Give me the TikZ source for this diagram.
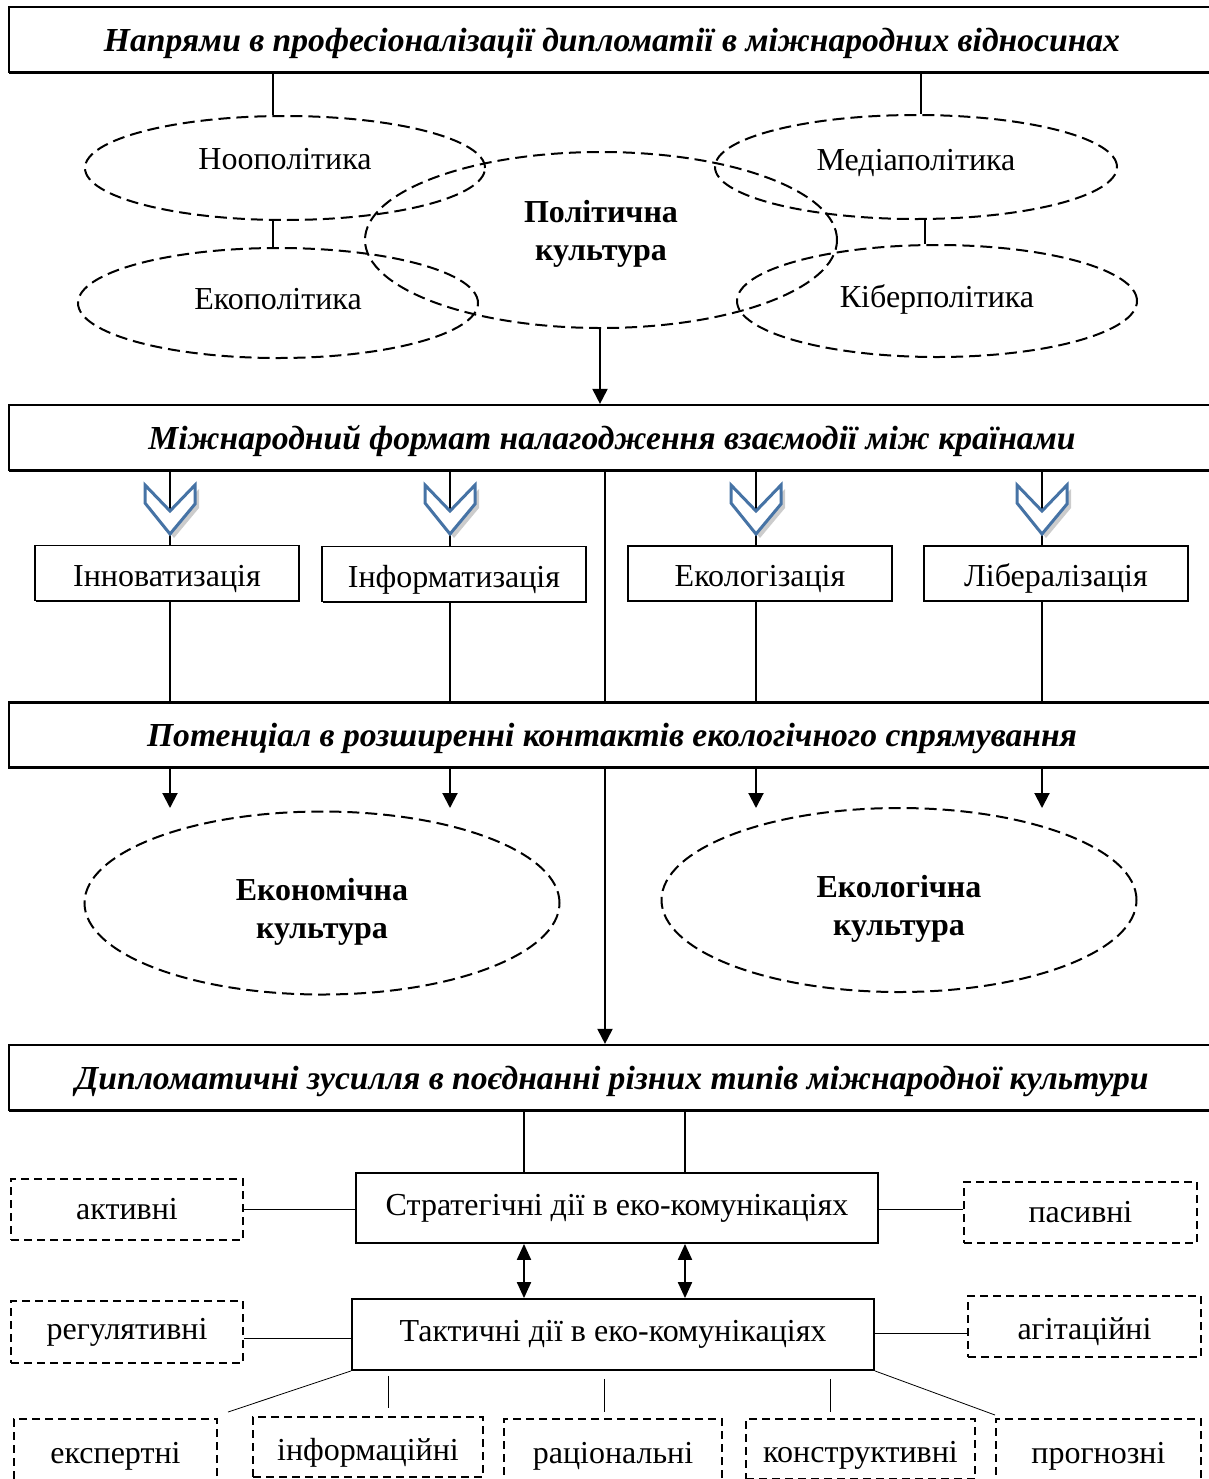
\documentclass[tikz,border=0pt]{standalone}
\usepackage{fontspec}
\setmainfont{Liberation Serif}
\usetikzlibrary{shapes.geometric}
\usetikzlibrary{arrows.meta}
\usetikzlibrary{shadows}
\usetikzlibrary{positioning}
\definecolor{chevblue}{RGB}{70,115,165}

\begin{document}
\begin{tikzpicture}[x=0.5pt,y=-0.5pt,
  font=\fontsize{16}{19}\selectfont,
  head/.style={draw,line width=1.1pt,fill=white,minimum width=603pt,minimum height=32.5pt,inner sep=0pt,
    text height=13.5pt,text depth=1.6pt,font=\fontsize{16.8}{19}\selectfont\bfseries\itshape,
    drop shadow={shadow xshift=0pt,shadow yshift=-.8pt,opacity=1,fill=black}},
  oval/.style={ellipse,draw,line width=1pt,dash pattern=on 6pt off 3pt,inner sep=0pt},
  otext/.style={align=center,font=\fontsize{16}{19}\selectfont\bfseries},
  box/.style={draw,line width=.9pt,fill=white,inner sep=0pt,minimum width=132pt,minimum height=27.5pt,
    drop shadow={shadow xshift=.4pt,shadow yshift=-.5pt,opacity=1,fill=black}},
  low/.style={text height=14.4pt,text depth=1pt},
  dbox/.style={draw,line width=.9pt,dash pattern=on 4pt off 2.5pt,inner sep=0pt},
  link/.style={line width=1pt},
  tip/.style={-{Triangle[length=7.5pt,width=7.5pt]}},
  chev/.style={draw=chevblue,line width=1.5pt,fill=white,line join=miter}]
\useasboundingbox (0,0) rectangle (1209,1479);
\clip (0,0) rectangle (1209,1479);
% first level
  \node (h1) [head] at (612,39.5) {Напрями в професіоналізації дипломатії в міжнародних відносинах};
  \node (noo) [oval,minimum width=200pt,minimum height=52pt] at (285,168) {};
  \node (med) [oval,minimum width=201pt,minimum height=52pt] at (916,167) {};
  \node (eko) [oval,minimum width=200pt,minimum height=55pt] at (278,303) {};
  \node (kib) [oval,minimum width=200pt,minimum height=56pt] at (937,301) {};
  \node (pol) [oval,minimum width=236pt,minimum height=88pt] at (601,240) {};
  \node (noo-t) at (285,159) {Ноополітика};
  \node (med-t) at (916,163) {Медіаполітика};
  \node (eko-t) at (278,299) {Екополітика};
  \node (kib-t) at (937,299) {Кіберполітика};
  \node (pol-t) [otext] at (601,234) {Політична\\культура};
  \draw [link] (h1.south -| 273,0) -- (noo.north -| 273,0);
  \draw [link] (h1.south -| 921,0) -- (med.north -| 921,0);
  \draw [link] (noo.south -| 273,0) -- (eko.north -| 273,0);
  \draw [link] (med.south -| 925,0) -- (kib.north -| 925,0);
  \node (h2) [head] at (612,437.5) {Міжнародний формат налагодження взаємодії між країнами};
  \draw [tip,link] (pol.south -| 600,0) -- (h2.north -| 600,0);
% second level
  \node (inn) [box,low] at (167,573) {Інноватизація};
  \node (inf) [box,low] at (454,574) {Інформатизація};
  \node (ekg) [box,low] at (760,573.5) {Екологізація};
  \node (lib) [box,low] at (1056,573.5) {Лібералізація};
  \node (h3) [head] at (612,735) {Потенціал в розширенні контактів екологічного спрямування};
  \foreach \x/\n in {170/inn,450/inf,756/ekg,1042/lib} {
    \draw [link] (h2.south -| \x,0) -- (\n.north -| \x,0);
    \draw [link] (\n.south -| \x,0) -- (h3.north -| \x,0);
    \fill [black,opacity=.2] (\x-21,489) -- (\x+4,515) -- (\x+29,489) -- (\x+29,508) -- (\x+4,538) -- (\x-21,507) -- cycle;
    \draw [chev] (\x-25,485) -- (\x,511) -- (\x+25,485) -- (\x+25,504) -- (\x,534) -- (\x-25,503) -- cycle;
    \coordinate (e\n) at (\x,808);
    \draw [tip,link] (h3.south -| \x,0) -- (e\n);
  }
  \draw [link] (h2.south -| 605,0) -- (h3.north -| 605,0);
% third level
  \node (eco) [oval,minimum width=237.5pt,minimum height=91.5pt] at (322,903) {};
  \node (ecl) [oval,minimum width=237.5pt,minimum height=92pt] at (899,900) {};
  \node (eco-t) [otext] at (322,911.5) {Економічна\\культура};
  \node (ecl-t) [otext] at (899,908.5) {Екологічна\\культура};
  \node (h4) [head] at (612,1077.5) {Дипломатичні зусилля в поєднанні різних типів міжнародної культури};
  \draw [tip,link] (h3.south -| 605,0) -- (h4.north -| 605,0);
% actions
  \node (str) [box,minimum width=261pt,minimum height=35pt] at (617,1208) {Стратегічні дії в еко-комунікаціях};
  \node (tac) [box,minimum width=261pt,minimum height=35.5pt] at (613,1334.5) {Тактичні дії в еко-комунікаціях};
  \foreach \x in {524,685} {
    \draw [line width=.8pt] (h4.south -| \x,0) -- (str.north -| \x,0);
    \draw [{Triangle[length=8pt,width=7pt]}-{Triangle[length=8pt,width=7pt]},link] (str.south -| \x,0) -- (tac.north -| \x,0);
  }
  \node (akt) [dbox,minimum width=116pt,minimum height=30.5pt] at (127,1209.5) {активні};
  \node (pas) [dbox,minimum width=116.5pt,minimum height=30.5pt] at (1080.5,1212.5) {пасивні};
  \node (reg) [dbox,minimum width=116pt,minimum height=31pt] at (127,1332) {регулятивні};
  \node (agi) [dbox,low,minimum width=116.5pt,minimum height=30.5pt] at (1084.5,1326.5) {агітаційні};
  \draw (akt.east |- 0,1209) -- (str.west |- 0,1209);
  \draw (str.east |- 0,1209) -- (pas.west |- 0,1209);
  \draw (reg.east |- 0,1338) -- (tac.west |- 0,1338);
  \draw (tac.east |- 0,1333) -- (agi.west |- 0,1333);
% bottom row
  \node (exp) [dbox,low,minimum width=101.5pt,minimum height=31pt] at (115.5,1450) {експертні};
  \node (inm) [dbox,low,minimum width=115pt,minimum height=30pt] at (368,1447) {інформаційні};
  \node (rac) [dbox,low,minimum width=109pt,minimum height=31pt] at (613,1450) {раціональні};
  \node (kon) [dbox,low,minimum width=114.5pt,minimum height=30pt] at (860.5,1449) {конструктивні};
  \node (pro) [dbox,low,minimum width=102.5pt,minimum height=31pt] at (1098.5,1450) {прогнозні};
  \coordinate (c1) at (228,1412);
  \coordinate (c2) at (388,1408);
  \coordinate (c3) at (604,1412);
  \coordinate (c4) at (830,1412);
  \coordinate (c5) at (995,1415);
  \draw (tac.south west) -- (c1);
  \draw [shorten <=2.5pt] (tac.south -| c2) -- (c2);
  \draw [shorten <=4pt] (tac.south -| c3) -- (c3);
  \draw [shorten <=4pt] (tac.south -| c4) -- (c4);
  \draw (tac.south east) -- (c5);
\end{tikzpicture}
\end{document}
